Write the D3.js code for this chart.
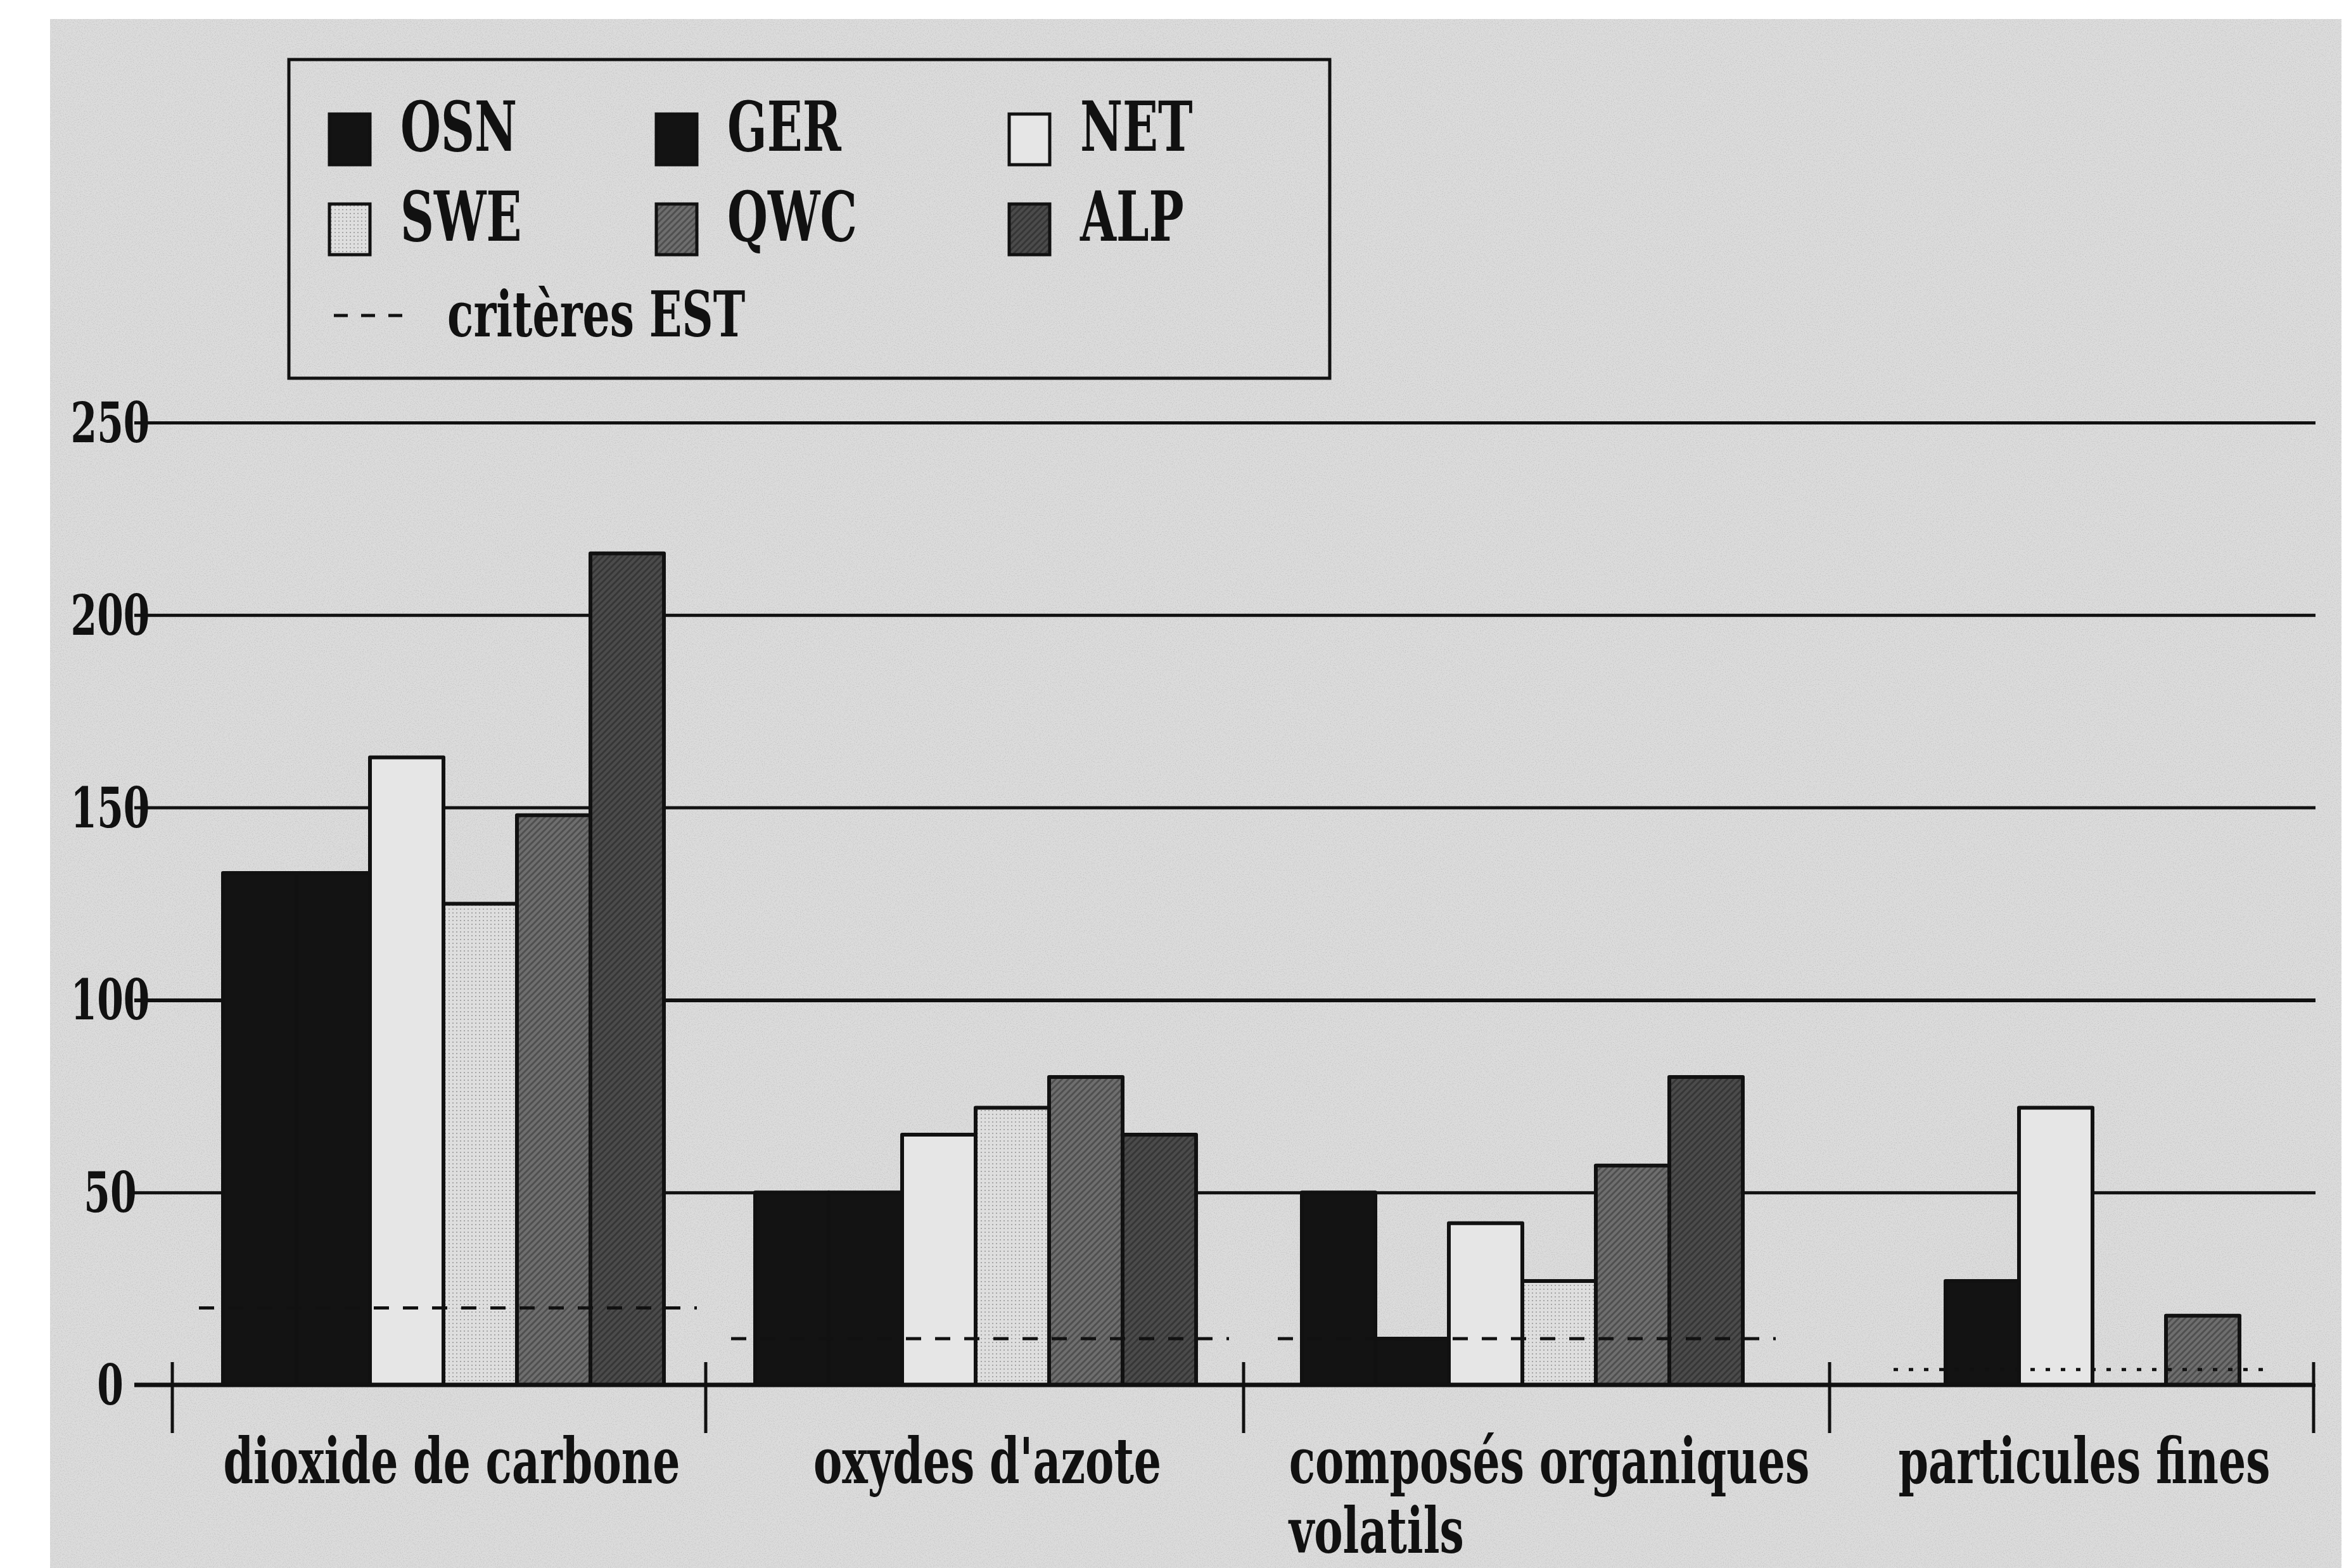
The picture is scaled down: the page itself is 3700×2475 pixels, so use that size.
<!DOCTYPE html>
<html><head><meta charset="utf-8">
<script src="https://cdn.jsdelivr.net/npm/d3@7"></script>
<style>html,body{margin:0;padding:0;background:#fff;} svg{display:block}</style>
</head><body>
<svg id="chart" width="3700" height="2475"></svg>
<script>
// ---- data ----
const categories = ["dioxide de carbone", "oxydes d'azote", "composés organiques volatils", "particules fines"];
const categoryLines = [["dioxide de carbone"], ["oxydes d'azote"], ["composés organiques", "volatils"], ["particules fines"]];
const seriesNames = ["OSN", "GER", "NET", "SWE", "QWC", "ALP"];
const OSN = [133, 50, 50, 0];
const GER = [133, 50, 12, 27];
const NET = [163, 65, 42, 72];
const SWE = [125, 72, 27, 0];
const QWC = [148, 80, 57, 18];
const ALP = [216, 65, 80, 0];
const criteresEST = [20, 12, 12, 4];
const estStyle = ["dashed", "dashed", "dashed", "dotted"];
const estLabel = "critères EST";
const yTicks = [0, 50, 100, 150, 200, 250];
const seriesValues = {OSN, GER, NET, SWE, QWC, ALP};

// ---- layout / style ----
const W = 3700, H = 2475;
const FONT = "'DejaVu Serif', 'Liberation Serif', serif";
const SQ = 0.68;
const svg = d3.select("#chart");
const defs = svg.append("defs");

const f = defs.append("filter").attr("id", "noise").attr("x", 0).attr("y", 0).attr("width", "100%").attr("height", "100%");
f.append("feTurbulence").attr("type", "fractalNoise").attr("baseFrequency", 0.6).attr("numOctaves", 2).attr("seed", 3);
f.append("feColorMatrix").attr("type", "matrix")
  .attr("values", "0 0 0 0 0  0 0 0 0 0  0 0 0 0 0  0 0 0 -1 0.55");

const pSWE = defs.append("pattern").attr("id", "pSWE").attr("patternUnits", "userSpaceOnUse").attr("width", 6).attr("height", 6);
pSWE.append("rect").attr("width", 6).attr("height", 6).attr("fill", "#dedede");
pSWE.append("rect").attr("width", 2).attr("height", 2).attr("fill", "#a5a5a5");
const pQWC = defs.append("pattern").attr("id", "pQWC").attr("patternUnits", "userSpaceOnUse").attr("width", 10).attr("height", 10);
pQWC.append("rect").attr("width", 10).attr("height", 10).attr("fill", "#6e6e6e");
pQWC.append("path").attr("d", "M0,10 L10,0 M-2,2 L2,-2 M8,12 L12,8").attr("stroke", "#4f4f4f").attr("stroke-width", 3);
const pALP = defs.append("pattern").attr("id", "pALP").attr("patternUnits", "userSpaceOnUse").attr("width", 10).attr("height", 10);
pALP.append("rect").attr("width", 10).attr("height", 10).attr("fill", "#4b4b4b");
pALP.append("path").attr("d", "M0,10 L10,0 M-2,2 L2,-2 M8,12 L12,8").attr("stroke", "#363636").attr("stroke-width", 3);

const fills = {OSN: "#131313", GER: "#131313", NET: "#e6e6e6", SWE: "url(#pSWE)", QWC: "url(#pQWC)", ALP: "url(#pALP)"};

// background (scanned page)
svg.append("rect").attr("width", W).attr("height", H).attr("fill", "#fff");
svg.append("rect").attr("x", 79).attr("y", 30).attr("width", 3617).attr("height", H - 30).attr("fill", "#dcdcdc");
svg.append("rect").attr("x", 79).attr("y", 30).attr("width", 3617).attr("height", H - 30).attr("filter", "url(#noise)").attr("opacity", 0.22);

// scales
const y = d3.scaleLinear().domain([0, 250]).range([2186, 667]);
const xBound = d3.scaleLinear().domain([0, 1, 2, 3, 4]).range([272, 1114, 1963, 2888, 3652]);
const xCenter = d3.scaleLinear().domain([0, 1, 2, 3]).range([700, 1540, 2403, 3303]);
const xInner = d3.scaleBand().domain(seriesNames).range([-348, 348]).padding(0);
const gridLeft = 212, gridRight = 3655;

// condensed text helper (horizontal squeeze via transform)
function label(parent, txt, x, yy, size, anchor) {
  const g = parent.append("g").attr("transform", `translate(${x},${yy}) scale(${SQ},1)`);
  const t = g.append("text").attr("text-anchor", anchor)
    .attr("font-family", FONT).attr("font-weight", 700).attr("font-size", size).attr("fill", "#111")
    .text(txt);
  return {g, t, width: t.node().getComputedTextLength() * SQ};
}

// gridlines (y axis)
const yAxis = d3.axisLeft(y).tickValues(yTicks).tickSize(-(gridRight - gridLeft)).tickFormat(() => "");
const gy = svg.append("g").attr("transform", `translate(${gridLeft},0)`).call(yAxis);
gy.select(".domain").remove();
gy.selectAll(".tick line").attr("stroke", "#111").attr("stroke-width", d => d === 100 ? 6 : 5);
gy.selectAll(".tick text").remove();

// bars
const bars = [];
categories.forEach((c, i) => seriesNames.forEach(s => {
  const v = seriesValues[s][i];
  if (v > 0) bars.push({c, i, s, v});
}));
svg.append("g").selectAll("rect").data(bars).join("rect")
  .attr("x", d => xCenter(d.i) + xInner(d.s))
  .attr("y", d => y(d.v))
  .attr("width", xInner.bandwidth())
  .attr("height", d => y(0) - y(d.v))
  .attr("fill", d => fills[d.s])
  .attr("stroke", "#111").attr("stroke-width", 6).attr("stroke-linejoin", "round");

// EST criteria
svg.append("g").selectAll("line").data(criteresEST).join("line")
  .attr("x1", (d, i) => xCenter(i) - (estStyle[i] === "dotted" ? 314 : 386))
  .attr("x2", (d, i) => xCenter(i) + (estStyle[i] === "dotted" ? 280 : 400))
  .attr("y1", d => y(d)).attr("y2", d => y(d))
  .attr("stroke", "#111").attr("stroke-width", 5)
  .attr("stroke-dasharray", (d, i) => estStyle[i] === "dotted" ? "7,17" : "24,22");

// zero axis + group separators
svg.append("line").attr("x1", gridLeft).attr("x2", 3652).attr("y1", y(0)).attr("y2", y(0))
  .attr("stroke", "#111").attr("stroke-width", 7);
svg.append("g").selectAll("line").data(d3.range(categories.length + 1)).join("line")
  .attr("x1", d => xBound(d)).attr("x2", d => xBound(d))
  .attr("y1", 2150).attr("y2", 2262)
  .attr("stroke", "#111").attr("stroke-width", 5);

// y tick labels
const gyl = svg.append("g");
yTicks.forEach(v => label(gyl, d3.format("d")(v), 174, y(v) + 31, 88, "middle"));

// category labels
const gx = svg.append("g");
categoryLines.forEach((lines, i) => {
  const cx = (xBound(i) + xBound(i + 1)) / 2 + 20;
  const first = label(gx, lines[0], cx, 2341, 100, "middle");
  const startX = cx - first.width / 2;
  lines.slice(1).forEach((ln, k) => label(gx, ln, startX, 2341 + 110 * (k + 1), 100, "start"));
});

// legend
const lg = svg.append("g");
lg.append("rect").attr("x", 456).attr("y", 94).attr("width", 1643).attr("height", 503)
  .attr("fill", "none").attr("stroke", "#111").attr("stroke-width", 5);
const colX = [520, 1036, 1593], rowY = [180, 322];
seriesNames.forEach((s, k) => {
  const cx = colX[k % 3], ry = rowY[Math.floor(k / 3)];
  lg.append("rect").attr("x", cx).attr("y", ry).attr("width", 64).attr("height", 80)
    .attr("fill", fills[s]).attr("stroke", "#111").attr("stroke-width", 5);
  label(lg, s, cx + 112, ry + 58, 108, "start");
});
lg.append("line").attr("x1", 527).attr("x2", 635).attr("y1", 498).attr("y2", 498)
  .attr("stroke", "#111").attr("stroke-width", 5).attr("stroke-dasharray", "22,21");
label(lg, estLabel, 706, 531, 100, "start");
</script>
</body></html>
